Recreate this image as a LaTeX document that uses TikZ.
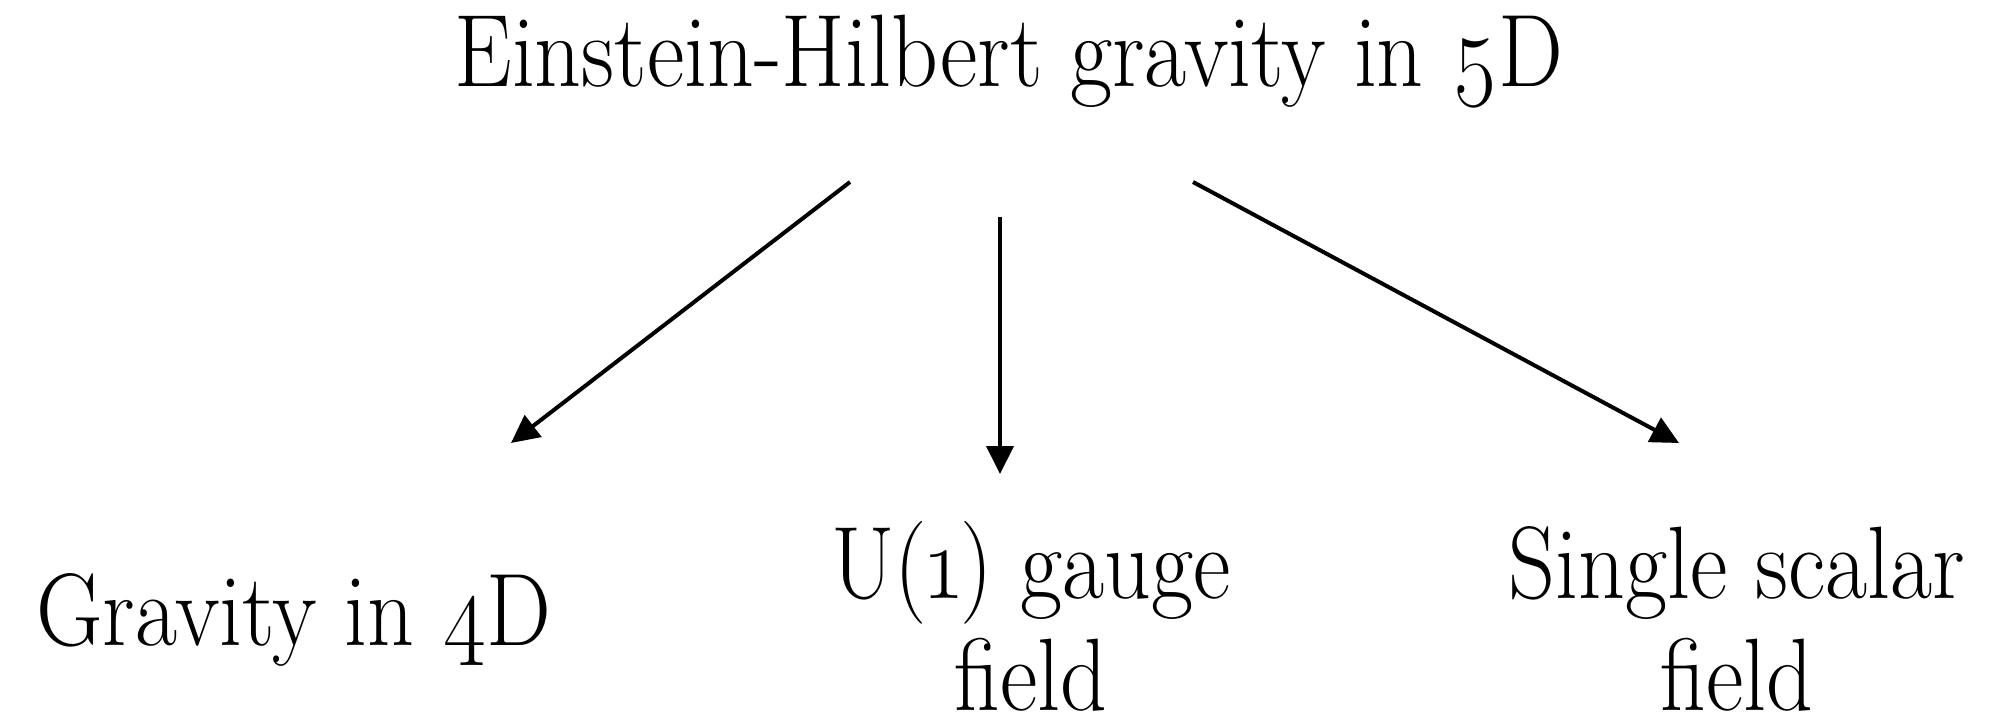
\documentclass[tikz,border=0pt]{standalone}
\usepackage{fontspec}
\setmainfont{Latin Modern Roman}[Numbers=OldStyle]
\usetikzlibrary{arrows.meta}
\tikzset{
  lbl/.style={font=\fontsize{103}{112}\selectfont, inner sep=0pt, xscale=0.89, align=center},
  arr/.style={line width=4pt, -{Triangle[length=28pt,width=27pt]}}
}
\begin{document}
\begin{tikzpicture}[x=1pt,y=-1pt]
\useasboundingbox (0,0) rectangle (1994,721);
\node[lbl, anchor=base] (top) at (1009,86) {Einstein-Hilbert gravity in 5D};
\node[lbl, anchor=base] (grav) at (294,645) {Gravity in 4D};
\node[lbl, anchor=base] (gauge) at (1031,710) {U(1) gauge\\field};
\node[lbl, anchor=base] (scal) at (1737,710) {Single scalar\\field};
\coordinate (s1) at (850,182);
\coordinate (e1) at (511,443);
\coordinate (s2) at (1000,217);
\coordinate (e2) at (1000,474);
\coordinate (s3) at (1193,182);
\coordinate (e3) at (1679,443);
\draw[arr] (s1) -- (e1);
\draw[arr] (s2) -- (e2);
\draw[arr] (s3) -- (e3);
\end{tikzpicture}
\end{document}
